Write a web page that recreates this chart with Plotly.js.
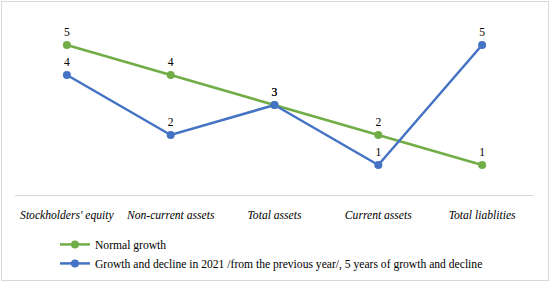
<!DOCTYPE html>
<html>
<head>
<meta charset="utf-8">
<script src="https://cdn.plot.ly/plotly-3.0.1.min.js"></script>
<style>
html,body{margin:0;padding:0;background:#fff;}
#wrap{position:relative;width:552px;height:284px;}
#chart{position:absolute;left:0;top:0;width:552px;height:284px;}
#frame{position:absolute;left:1px;top:1px;width:546px;height:278px;border:1px solid #D9D9D9;pointer-events:none;}
</style>
</head>
<body>
<div id="wrap"><div id="chart"></div><div id="frame"></div></div>
<script>
const categories = ["Stockholders' equity", "Non-current assets", "Total assets", "Current assets", "Total liablities"];
const normalGrowth = [5, 4, 3, 2, 1];
const growth2021 = [4, 2, 3, 1, 5];
const seriesNames = ["Normal growth", "Growth and decline in 2021 /from the previous year/, 5 years of growth and decline"];

const serif = "Liberation Serif";
const fs = 11.6;

const traces = [
  {
    x: categories, y: normalGrowth, name: seriesNames[0],
    type: 'scatter', mode: 'lines+markers+text',
    text: normalGrowth.map(String), textposition: 'top center',
    textfont: {family: serif, size: fs, color: '#000'},
    line: {color: '#70AD47', width: 2.5},
    marker: {color: '#70AD47', size: 8},
    cliponaxis: false
  },
  {
    x: categories, y: growth2021, name: seriesNames[1],
    type: 'scatter', mode: 'lines+markers+text',
    text: growth2021.map(String), textposition: 'top center',
    textfont: {family: serif, size: fs, color: '#000'},
    line: {color: '#4472C4', width: 2.5},
    marker: {color: '#4472C4', size: 8},
    cliponaxis: false
  }
];

const layout = {
  width: 552, height: 284,
  margin: {l: 15, r: 18, t: 15, b: 89, autoexpand: false},
  paper_bgcolor: '#fff', plot_bgcolor: '#fff',
  showlegend: true,
  font: {family: serif, size: fs, color: '#000'},
  xaxis: {
    type: 'category', range: [-0.5, 4.5], autorange: false,
    showgrid: false, zeroline: false,
    showline: true, linecolor: '#D9D9D9', linewidth: 1,
    ticks: '', ticklabelstandoff: 9,
    tickfont: {family: serif, size: fs, color: '#000', style: 'italic'},
    fixedrange: true
  },
  yaxis: {
    range: [0, 6], autorange: false, visible: false, showgrid: false, zeroline: false, fixedrange: true
  },
  legend: {
    orientation: 'v', x: 0.077, xanchor: 'left', y: -0.194, yanchor: 'top',
    font: {family: serif, size: fs, color: '#000'},
    bgcolor: 'rgba(0,0,0,0)', itemclick: false, itemdoubleclick: false
  }
};

Plotly.newPlot('chart', traces, layout, {displayModeBar: false, staticPlot: true});
</script>
</body>
</html>
